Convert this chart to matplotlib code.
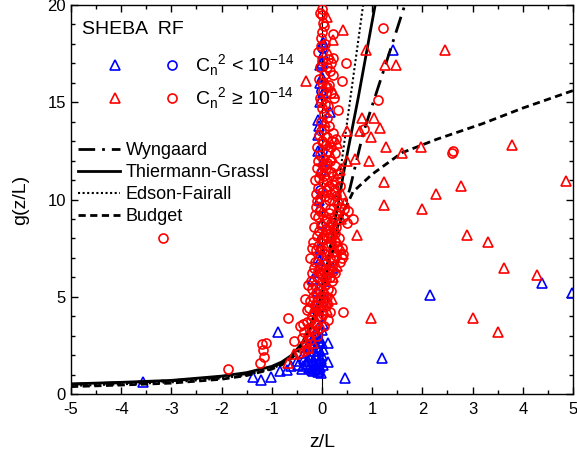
import matplotlib
matplotlib.use("Agg")
import matplotlib.pyplot as plt
from matplotlib.legend_handler import HandlerTuple
from matplotlib.lines import Line2D

plt.rcParams["font.family"] = ["Liberation Sans", "DejaVu Sans"]
plt.rcParams["mathtext.fontset"] = "custom"
plt.rcParams["mathtext.rm"] = "Liberation Sans"
plt.rcParams["axes.unicode_minus"] = False

# model curves (z/L, g)
wyn_x = [-5.0, -4.0, -3.0, -2.0, -1.5, -1.0, -0.8, -0.6, -0.4, -0.3, -0.2, -0.1, 0.0, 0.1, 0.3, 0.56, 0.82, 1.25, 1.65]
wyn_g = [0.50, 0.58, 0.68, 0.88, 1.05, 1.38, 1.60, 1.95, 2.55, 3.05, 3.70, 4.40, 5.0, 6.0, 8.2, 10.6, 13.4, 16.8, 20.0]
tg_x = [-5.0, -4.0, -3.0, -2.0, -1.5, -1.0, -0.8, -0.6, -0.4, -0.3, -0.2, -0.1, 0.0, 0.1, 0.2, 0.44, 0.72, 1.06]
tg_g = [0.52, 0.60, 0.70, 0.92, 1.10, 1.42, 1.65, 2.00, 2.60, 3.10, 3.75, 4.45, 5.0, 6.5, 8.0, 11.5, 15.2, 20.0]
ef_x = [-5.0, -4.0, -3.0, -2.0, -1.5, -1.0, -0.8, -0.6, -0.4, -0.3, -0.2, -0.1, 0.0, 0.2, 0.56, 0.82]
ef_g = [0.42, 0.50, 0.60, 0.80, 0.98, 1.30, 1.52, 1.88, 2.45, 2.95, 3.60, 4.30, 5.0, 8.3, 15.1, 20.0]
bud_x = [-5.0, -4.0, -3.0, -2.0, -1.5, -1.0, -0.8, -0.6, -0.4, -0.3, -0.2, -0.1, 0.0, 0.1, 0.2, 0.35, 0.62, 1.0, 1.59, 2.29, 3.2, 4.0, 5.0]
bud_g = [0.38, 0.46, 0.56, 0.76, 0.95, 1.28, 1.50, 1.85, 2.42, 2.92, 3.55, 4.25, 5.0, 6.5, 7.7, 8.9, 10.4, 11.3, 12.4, 13.1, 13.9, 14.7, 15.6]

# observations, Cn2 < 1e-14 (blue) and >= 1e-14 (red)
bt_x = [1.41, 2.15, 4.38, 4.98, 1.20, 0.46, 0.12, 0.12, -0.88, -1.37, -1.22, -1.02, -0.84, -0.48, -0.38, -0.30, -3.57,
        0.02, 0.02, -0.04, 0.00, -0.04, 0.16, -0.08, -0.08, -0.08, -0.04, 0.22, -0.18, 0.06, -0.04,
        -0.25, -0.20, -0.15, -0.10, -0.05, -0.22, -0.12, -0.02, -0.18, -0.08, 0.00, -0.15, -0.05, -0.10, -0.30,
        -0.25, 0.00, -0.12, -0.03, 0.00, -0.06, -0.02, 0.04, -0.10, 0.02, -0.14, -0.20, -0.06,
        -0.35, -0.28, -0.20, -0.10, -0.02, -0.06, -0.16, -0.08, -0.12, -0.04, 0.02, 0.02, -0.22, -0.18, -0.08,
        -0.26, -0.36, -0.40, -0.50, -0.62, -0.70,
        -0.02, -0.06, 0.00, -0.04, -0.08, -0.10, 0.02, -0.06, 0.02, -0.04, 0.00]
bt_g = [17.7, 5.1, 5.7, 5.2, 1.85, 0.8, 2.6, 1.65, 3.2, 0.9, 0.7, 0.85, 1.2, 1.5, 1.45, 1.55, 0.62,
        18.1, 17.5, 16.9, 16.3, 15.0, 14.5, 14.1, 13.3, 12.5, 9.6, 6.5, 5.9, 5.8, 6.9,
        3.0, 2.8, 2.6, 2.4, 2.2, 2.0, 1.9, 1.8, 1.7, 1.6, 2.0, 2.2, 2.9, 3.1, 2.4,
        1.9, 2.6, 1.5, 1.4, 3.3, 4.0, 4.6, 5.0, 4.4, 3.6, 1.3, 1.25, 1.2,
        2.1, 1.7, 1.4, 1.3, 1.1, 2.7, 2.9, 3.4, 2.0, 1.7, 1.5, 2.3, 2.5, 1.2, 1.15,
        1.35, 1.8, 1.3, 1.7, 1.45, 1.25,
        11.5, 10.0, 8.8, 7.5, 7.0, 5.3, 12.0, 13.8, 15.5, 16.0, 17.0]
bc_x = [-0.02, 0.00, -0.04, 0.00, -0.06, 0.02, 0.00]
bc_g = [15.6, 12.5, 10.5, 8.0, 6.2, 4.8, 17.8]

rt_x = [0.10, 0.42, 0.22, 0.88, 2.45, 1.25, 1.47, -0.32, 0.24, 0.80, 1.04, 1.16, 0.50, 0.76, 0.98, 1.27, 1.59, 1.97,
        3.78, 0.94, 0.66, 1.24, 2.77, 2.27, 4.86, 1.24, 1.99, 2.89, 3.31, 3.63, 4.28, 0.98, 3.01, 3.51, 0.20, 0.70,
        0.30, -0.56, -0.28, -0.68, 0.16, 0.50, 0.46, 0.42, 0.12, 0.26, 0.34,
        0.14, 0.08, 0.06, 0.20, 0.30, 0.36, 0.24, 0.38, 0.16, 0.30, 0.22, 0.04, 0.10, -0.10, -0.18, 0.40]
rt_g = [19.4, 18.7, 18.2, 17.7, 17.7, 16.9, 16.9, 16.1, 15.5, 14.2, 14.2, 13.7, 13.5, 13.5, 13.2, 12.7, 12.4, 12.7,
        12.8, 12.0, 12.1, 10.9, 10.7, 10.3, 10.95, 9.7, 9.5, 8.2, 7.8, 6.5, 6.1, 3.9, 3.9, 3.2, 4.9, 8.2,
        6.6, 2.05, 2.35, 1.6, 13.0, 12.0, 9.8, 7.2, 4.8, 11.0, 10.0,
        17.5, 16.0, 14.0, 12.2, 12.9, 11.5, 10.0, 9.0, 8.7, 7.9, 6.0, 5.4, 4.3, 3.7, 2.6, 10.3]
rc_x = [0.00, 0.01, 0.02, 0.00, -0.02, 0.22,
        -0.08, 0.00, 0.12, 0.18, 0.22, 0.48, 0.10, 0.16, 0.22, -0.04, 0.40, 0.00,
        0.02, 0.14, 0.08, -0.04, 0.32, 0.06, 0.04, -0.02, 0.10, 0.00,
        0.04, -0.06, 0.00, 0.08, 0.12, -0.04, 0.02, 0.16, 0.06, 0.84, 0.20, -0.10,
        1.12, 1.22, 2.59, 2.61,
        -0.10, -0.02, 0.04, 0.10, 0.20, -0.08, 0.00, 0.06, 0.14, 0.24, 0.30, -0.14, 0.08, 0.18,
        -0.12, -0.04, 0.02, 0.10, 0.18, 0.30, 0.42, 0.50, 0.62, 0.34, -0.16, -0.06, 0.04, 0.12, 0.22, -0.10, 0.06, 0.16,
        0.40, 0.42, 0.40, -0.18, -0.08, 0.00, 0.08, 0.16, -0.14, -0.04, 0.04, 0.12, -0.20, -0.10, 0.20, 0.02, -0.24,
        -0.22, -0.14, -0.06, 0.02, -0.18, -0.10, -0.02, -0.26, -0.16, -0.08, 0.42, -0.30, 0.00, -0.12,
        -0.68, -0.44, -0.36, -0.56, -0.22, -0.14, -0.28, -0.20, -0.32, -1.12, -1.20, -1.17, -1.16, -1.24, -0.06,
        -1.87, -3.17,
        -0.04, 0.04, -0.02, 0.06,
        0.04, -0.06, 0.10, 0.18, -0.02, 0.12, 0.24,
        0.14, 0.22, -0.02, 0.10, 0.18, 0.26, -0.08, 0.10, 0.02, 0.28,
        -0.06, 0.02, 0.14, 0.22, 0.28, -0.12, -0.04, 0.10, 0.18, 0.36, 0.02, 0.26,
        -0.08, 0.06, 0.14, 0.24, 0.36, -0.14, -0.02, 0.08, 0.16, 0.28, -0.10, 0.00, 0.20, 0.26, 0.44, 0.52,
        -0.12, -0.02, 0.06, 0.12, 0.22, 0.28, -0.20, -0.08, 0.00, 0.08, 0.16, 0.26, -0.16, 0.34, 0.36,
        -0.28, -0.20, -0.12, -0.04, 0.06, 0.12, -0.24, -0.14, -0.06, 0.02, -0.20, -0.34, 0.10, -0.02,
        -0.30, -0.38, -0.26, -0.16, -0.24, -0.40, -0.30, -0.46, -0.10, -0.36,
        0.10, 0.18, 0.14, 0.24, 0.18, 0.08, 0.20, 0.30, 0.12, 0.05, 0.16, 0.26, 0.06, 0.22]
rc_g = [19.8, 19.5, 19.1, 18.6, 18.3, 18.5,
        17.6, 17.1, 17.2, 17.0, 17.3, 17.0, 16.8, 16.6, 16.4, 16.8, 16.1, 16.0,
        15.6, 15.9, 15.4, 15.2, 14.6, 14.9, 14.4, 14.0, 14.2, 14.7,
        13.6, 13.3, 13.0, 12.8, 12.5, 12.3, 12.1, 12.0, 11.8, 13.6, 13.0, 12.7,
        15.1, 18.8, 12.4, 12.5,
        11.6, 11.4, 11.2, 11.0, 10.8, 10.6, 10.4, 10.2, 10.0, 10.5, 11.3, 11.0, 11.6, 11.4,
        9.6, 9.4, 9.2, 9.0, 8.8, 9.3, 9.1, 8.8, 9.0, 8.0, 8.6, 8.4, 8.2, 8.0, 8.5, 9.9, 9.7, 9.5,
        7.5, 7.2, 7.0, 7.8, 7.6, 7.4, 7.2, 7.0, 6.8, 6.6, 6.4, 6.2, 6.2, 6.0, 6.6, 7.9, 7.0,
        5.8, 5.6, 5.4, 5.2, 5.0, 4.8, 4.6, 4.4, 4.2, 4.0, 4.2, 4.3, 5.8, 4.5,
        3.9, 3.5, 3.2, 2.7, 3.8, 3.6, 3.0, 3.3, 2.6, 2.6, 2.55, 2.25, 1.9, 1.6, 3.4,
        1.3, 8.0,
        19.6, 18.9, 17.9, 18.0,
        16.4, 16.2, 15.8, 15.5, 15.0, 14.8, 15.2,
        13.8, 13.4, 13.5, 13.2, 12.7, 12.4, 12.0, 11.9, 12.9, 13.1,
        11.1, 10.9, 10.7, 11.2, 10.2, 10.3, 10.1, 10.5, 10.3, 10.7, 11.7, 11.7,
        9.1, 8.9, 9.3, 9.1, 9.6, 9.2, 8.7, 8.5, 8.3, 8.6, 8.1, 8.0, 8.1, 7.8, 9.5, 9.4,
        7.4, 7.1, 6.9, 7.6, 7.3, 7.1, 7.5, 6.3, 6.1, 5.9, 6.0, 6.2, 6.5, 7.4, 6.8,
        5.6, 5.4, 5.2, 5.0, 5.6, 5.4, 4.8, 4.6, 4.3, 4.1, 4.0, 4.9, 4.7, 3.9,
        3.7, 3.6, 3.4, 3.2, 2.8, 2.9, 2.3, 2.1, 3.0, 2.2,
        5.0, 5.3, 6.4, 6.9, 7.7, 4.5, 5.8, 7.6, 3.8, 3.5, 4.2, 8.3, 6.7, 6.3]

fig = plt.figure(figsize=(5.77, 4.59), dpi=100)
ax = fig.add_axes([0.123, 0.1416, 0.870, 0.8475])

ax.axvline(0, color="black", lw=0.8, zorder=1)

kw_open = dict(ls="none", mfc="none", mew=1.2)
ax.plot(bt_x, bt_g, "^", color="#0000ff", ms=7.5, zorder=2, **kw_open)
ax.plot(bc_x, bc_g, "o", color="#0000ff", ms=6.5, zorder=2, **kw_open)
ax.plot(rt_x, rt_g, "^", color="#ff0000", ms=7.5, zorder=3, **kw_open)
ax.plot(rc_x, rc_g, "o", color="#ff0000", ms=6.5, zorder=3, **kw_open)

l_wyn, = ax.plot(wyn_x, wyn_g, color="black", lw=2, dashes=(6, 2.5, 1, 2.5), label="Wyngaard", zorder=2.5)
l_tg, = ax.plot(tg_x, tg_g, color="black", lw=2, ls="-", label="Thiermann-Grassl", zorder=2.5)
l_ef, = ax.plot(ef_x, ef_g, color="black", lw=1.5, ls=(0, (1, 1.2)), label="Edson-Fairall", zorder=2.5)
l_bud, = ax.plot(bud_x, bud_g, color="black", lw=2, dashes=(2.6, 1.6), label="Budget", zorder=2.5)

ax.set_xlim(-5, 5)
ax.set_ylim(0, 20)
ax.set_xticks(range(-5, 6))
ax.set_xticks([v / 2 for v in range(-10, 11)], minor=True)
ax.set_yticks([0, 5, 10, 15, 20])
ax.set_yticks(range(0, 21), minor=True)
ax.tick_params(which="both", direction="in", top=True, right=True, labelsize=12, width=1)
ax.tick_params(which="major", length=5)
ax.tick_params(which="minor", length=3)
ax.tick_params(axis="x", pad=6)
for s in ax.spines.values():
    s.set_linewidth(1)
ax.set_xlabel("z/L", fontsize=14, labelpad=12)
ax.set_ylabel("g(z/L)", fontsize=14, labelpad=13)

ax.text(0.022, 0.936, "SHEBA  RF", transform=ax.transAxes, fontsize=14, va="center", ha="left")

h_bt = Line2D([], [], marker="^", color="#0000ff", ms=7.5, **kw_open)
h_bc = Line2D([], [], marker="o", color="#0000ff", ms=6.5, **kw_open)
h_rt = Line2D([], [], marker="^", color="#ff0000", ms=7.5, **kw_open)
h_rc = Line2D([], [], marker="o", color="#ff0000", ms=6.5, **kw_open)
leg1 = ax.legend([(h_bt, h_bc), (h_rt, h_rc)],
                 [r"C$_\mathregular{n}$$^\mathregular{2}$ < 10$^\mathregular{-14}$",
                  r"C$_\mathregular{n}$$^\mathregular{2}$ ≥ 10$^\mathregular{-14}$"],
                 handler_map={tuple: HandlerTuple(ndivide=None, pad=2.18)},
                 handlelength=3.7, handletextpad=0.8, labelspacing=0.4, fontsize=14,
                 frameon=False, loc="upper left", bbox_to_anchor=(0.073, 0.880),
                 borderpad=0, borderaxespad=0)
ax.add_artist(leg1)
ax.legend([l_wyn, l_tg, l_ef, l_bud], ["Wyngaard", "Thiermann-Grassl", "Edson-Fairall", "Budget"],
          handlelength=2.3, handletextpad=0.35, labelspacing=0.28, fontsize=13,
          frameon=False, loc="upper left", bbox_to_anchor=(0.014, 0.647),
          borderpad=0, borderaxespad=0)

fig.savefig("out.png", dpi=100)
